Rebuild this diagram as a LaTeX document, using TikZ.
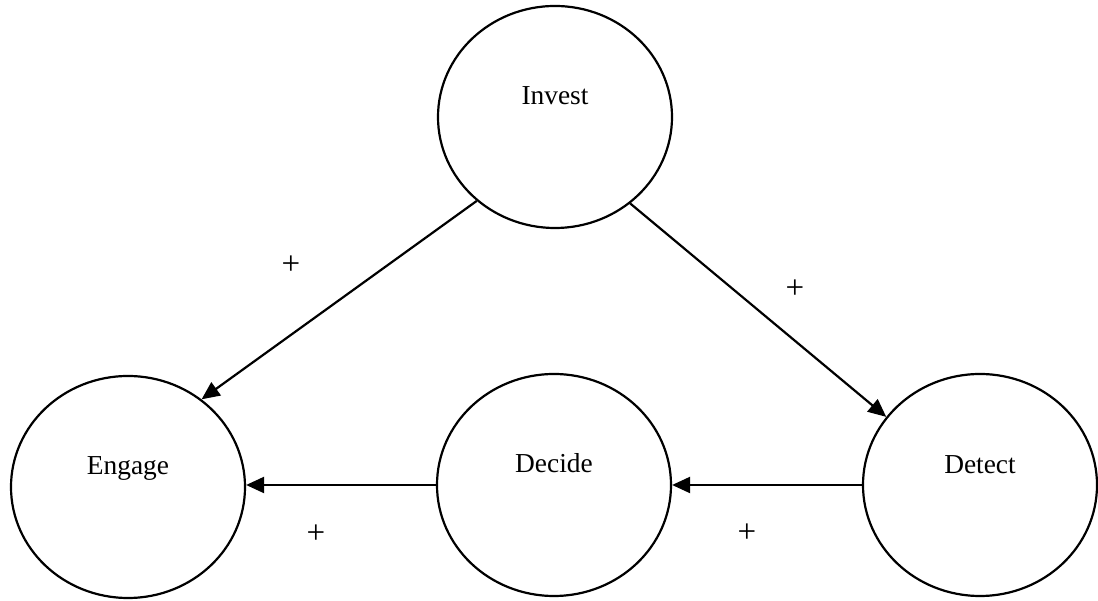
\documentclass[tikz,border=0pt]{standalone}
\usepackage{fontspec}
\setmainfont{Liberation Serif}
\usetikzlibrary{shapes.geometric,arrows.meta}
\begin{document}
\begin{tikzpicture}[x=1pt,y=1pt,
  stage/.style={ellipse,draw,line width=2.2pt,minimum width=234pt,minimum height=222pt,inner sep=0pt},
  stagetext/.style={anchor=base,font=\fontsize{27.4}{33}\selectfont},
  conn/.style={line width=2.2pt,-{Triangle[length=18pt,width=16pt]}},
  sign/.style={font=\fontsize{33}{38}\selectfont,inner sep=0pt}]
\useasboundingbox (0,0) rectangle (1098,601);
\node[stage] (Invest) at (555,484) {};
\node[stage] (Engage) at (128,114) {};
\node[stage] (Decide) at (554,116) {};
\node[stage] (Detect) at (980,116) {};
\node[stagetext] (tInvest) at ([yshift=12pt]Invest.center) {Invest};
\node[stagetext] (tEngage) at ([yshift=12pt]Engage.center) {Engage};
\node[stagetext] (tDecide) at ([yshift=12pt]Decide.center) {Decide};
\node[stagetext] (tDetect) at ([yshift=11pt]Detect.center) {Detect};
\draw[conn] (Invest.227.5) -- (Engage.50.5);
\draw[conn] (Invest.311.8) -- (Detect.144.4);
\draw[conn] (Detect.west) -- (Decide.east);
\draw[conn] (Decide.west) -- (Engage.east |- Decide.west);
\node[sign] (p1) at (291,336) {+};
\node[sign] (p2) at (795,312) {+};
\node[sign] (p3) at (316,67) {+};
\node[sign] (p4) at (747,68) {+};
\end{tikzpicture}
\end{document}
